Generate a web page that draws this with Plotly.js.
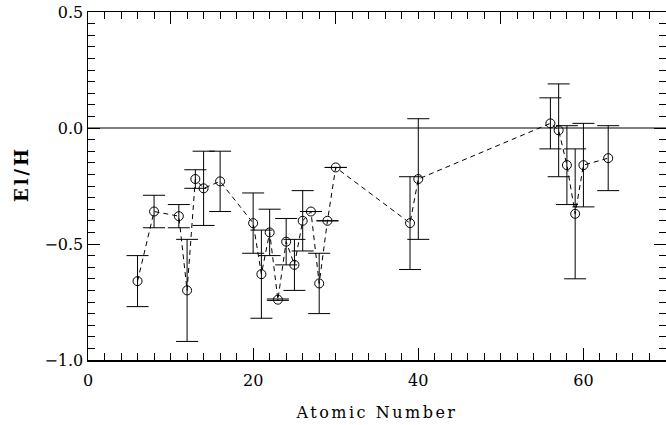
<!DOCTYPE html>
<html>
<head>
<meta charset="utf-8">
<script src="https://cdn.plot.ly/plotly-3.0.1.min.js"></script>
<style>html,body{margin:0;padding:0;background:#fff;}</style>
</head>
<body>
<div id="chart" style="width:666px;height:425px;"></div>
<script>
// Atomic numbers of the measured elements
const atomicNumber = [6, 8, 11, 12, 13, 14, 16, 20, 21, 22, 23, 24, 25, 26, 27, 28, 29, 30, 39, 40, 56, 57, 58, 59, 60, 63];
// Abundance [El/H]
const elH = [-0.66, -0.36, -0.38, -0.70, -0.22, -0.26, -0.23, -0.41, -0.63, -0.45, -0.74, -0.49, -0.59, -0.40, -0.36, -0.67, -0.40, -0.17, -0.41, -0.22, 0.02, -0.01, -0.16, -0.37, -0.16, -0.13];
// Symmetric errors (null = no error bar)
const elHErr = [0.11, 0.07, 0.05, 0.22, 0.04, 0.16, 0.13, 0.13, 0.19, 0.10, 0.003, 0.10, 0.11, 0.13, 0.0, 0.13, null, null, 0.20, 0.26, 0.11, 0.20, 0.17, 0.28, 0.18, 0.14];

const xTickVals = [0, 20, 40, 60];
const xTickText = ['0', '20', '40', '60'];
const topTickVals = [10, 30, 50, 70];
const yTickVals = [-1.0, -0.5, 0.0, 0.5];
const yTickText = ['\u22121.0', '\u22120.5', '0.0', '0.5'];
const xTitle = 'Atomic Number';
const yTitle = 'El/H';

const fontFam = '"DejaVu Serif", "Liberation Serif", serif';

const trace = {
  x: atomicNumber,
  y: elH,
  type: 'scatter',
  mode: 'lines+markers',
  line: {color: '#000', width: 1, dash: '5px,4px'},
  marker: {symbol: 'circle-open', size: 9, color: '#000', line: {width: 1, color: '#000'}},
  error_y: {type: 'data', array: elHErr, visible: true, color: '#000', thickness: 1, width: 11},
  showlegend: false,
  hoverinfo: 'x+y'
};

const layout = {
  width: 666, height: 425,
  margin: {l: 88, r: 0, t: 12, b: 65},
  paper_bgcolor: '#fff', plot_bgcolor: '#fff',
  font: {family: fontFam, color: '#000', size: 15},
  xaxis: {
    range: [0, 70], showgrid: false, zeroline: false,
    showline: true, linecolor: '#000', linewidth: 1.5,
    ticks: 'inside', ticklen: 12, tickwidth: 1, tickcolor: '#000',
    tickmode: 'array', tickvals: xTickVals, ticktext: xTickText,
    ticklabelstandoff: 5,
    minor: {dtick: 2, tick0: 0, ticks: 'inside', ticklen: 7, tickwidth: 1, tickcolor: '#000', showgrid: false},
    tickfont: {family: fontFam, size: 16},
    title: {text: xTitle, font: {family: fontFam, size: 16}, standoff: 18}
  },
  xaxis2: {
    overlaying: 'x', side: 'top', anchor: 'y',
    range: [0, 70], showgrid: false, zeroline: false,
    showline: true, linecolor: '#000', linewidth: 1.5,
    ticks: 'inside', ticklen: 12, tickwidth: 1, tickcolor: '#000',
    tickmode: 'array', tickvals: topTickVals, showticklabels: false,
    minor: {dtick: 2, tick0: 0, ticks: 'inside', ticklen: 7, tickwidth: 1, tickcolor: '#000', showgrid: false}
  },
  yaxis: {
    range: [-1.0, 0.5], showgrid: false, zeroline: false,
    showline: true, linecolor: '#000', linewidth: 1.5, mirror: 'ticks',
    ticks: 'inside', ticklen: 12, tickwidth: 1, tickcolor: '#000',
    tickmode: 'array', tickvals: yTickVals, ticktext: yTickText,
    minor: {dtick: 0.05, ticks: 'inside', ticklen: 7, tickwidth: 1, tickcolor: '#000', showgrid: false},
    tickfont: {family: fontFam, size: 16}
  },
  annotations: [{
    text: yTitle, xref: 'paper', yref: 'paper', x: -0.115, y: 0.535,
    xanchor: 'center', yanchor: 'middle', textangle: -90, showarrow: false,
    font: {family: fontFam, size: 18, color: '#000'}
  }],
  shapes: [{type: 'line', xref: 'x', yref: 'y', x0: 0, x1: 70, y0: 0, y1: 0, line: {color: '#000', width: 1.2}}]
};

const dummyTop = {x: [0, 70], y: [null, null], xaxis: 'x2', yaxis: 'y', type: 'scatter', mode: 'markers', showlegend: false, hoverinfo: 'skip'};

Plotly.newPlot('chart', [trace, dummyTop], layout, {displayModeBar: false, staticPlot: true}).then(() => {
  document.querySelectorAll('.xtitle').forEach(el => { el.style.letterSpacing = '2.5px'; });
  document.querySelectorAll('.annotation-text').forEach(el => { el.style.letterSpacing = '3px'; el.style.fontWeight = '600'; });
});
</script>
</body>
</html>
